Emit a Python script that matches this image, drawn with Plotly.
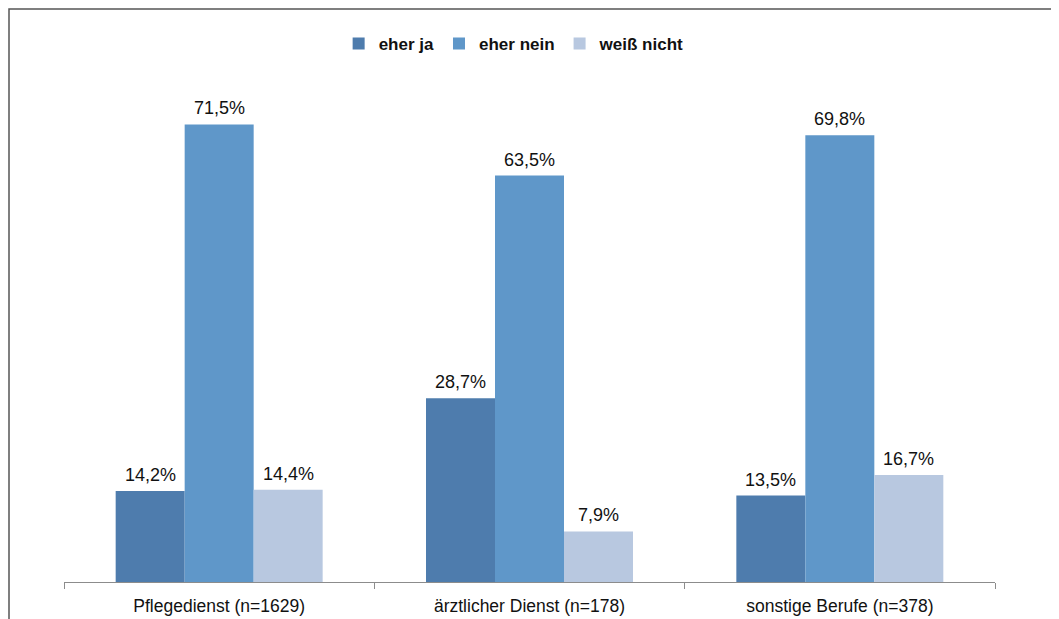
import plotly.graph_objects as go

categories = ["Pflegedienst (n=1629)", "ärztlicher Dienst (n=178)", "sonstige Berufe (n=378)"]
series_names = ["eher ja", "eher nein", "weiß nicht"]
eher_ja = [14.2, 28.7, 13.5]
eher_nein = [71.5, 63.5, 69.8]
weiss_nicht = [14.4, 7.9, 16.7]
colors = ["#4E7CAD", "#5F97C9", "#B8C8E0"]

FONT = "Liberation Sans, Arial"
bargap = 0.333
n_series = 3
bar_w = (1 - bargap) / n_series

fig = go.Figure()
annotations = []
for i, (name, vals, col) in enumerate(zip(series_names, [eher_ja, eher_nein, weiss_nicht], colors)):
    fig.add_trace(go.Bar(
        x=categories, y=vals, name=name, marker_color=col, marker_line_width=0,
    ))
    offset = (i - (n_series - 1) / 2) * bar_w
    for j, v in enumerate(vals):
        annotations.append(dict(
            x=j + offset, y=v, xref="x", yref="y",
            text=f"{v:.1f}%".replace(".", ","), showarrow=False,
            yanchor="bottom", xanchor="center", yshift=4,
            font=dict(family=FONT, size=18, color="#111"),
        ))

# page body has an 8px offset; margins compensate
fig.update_layout(
    width=1059, height=619,
    margin=dict(l=56, r=72, t=62, b=45),
    paper_bgcolor="white", plot_bgcolor="white",
    barmode="group", bargap=bargap, bargroupgap=0,
    font=dict(family=FONT, size=17.5, color="#111"),
    showlegend=True,
    legend=dict(orientation="h", x=0.4835, xanchor="center", y=1.0508, yanchor="middle",
                font=dict(size=17, family=FONT, weight="bold", color="#111"),
                itemwidth=30, tracegroupgap=0),
    xaxis=dict(showline=True, linecolor="#8c8c8c", linewidth=1.2, ticks="outside",
               tickson="boundaries", ticklen=6, tickcolor="#8c8c8c", showgrid=False,
               ticklabelstandoff=8,
               tickfont=dict(size=17.5, color="#111")),
    yaxis=dict(range=[0, 80], visible=False, showgrid=False),
    annotations=annotations,
    shapes=[dict(type="rect", xref="paper", yref="paper",
                 x0=(9 - 64) / 931, x1=1.2, y0=-0.3, y1=(582 - 9) / 512,
                 line=dict(color="#555", width=1.5), fillcolor="rgba(0,0,0,0)", layer="below")],
)

fig.write_html("out.html")
